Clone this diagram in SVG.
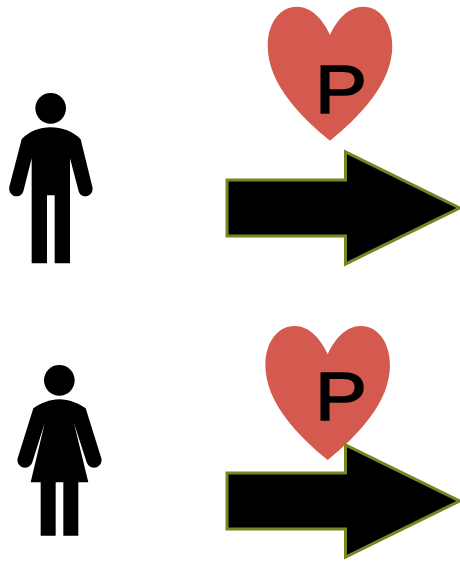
<svg xmlns="http://www.w3.org/2000/svg" width="460" height="561" viewBox="0 0 460 561">
<style>
.fig{fill:#000}
.heart{fill:#d4594e}
.arrow{fill:#000;stroke:#7a8420;stroke-width:3;stroke-linejoin:miter}
.p{font-family:"Liberation Sans",Arial,sans-serif;font-size:69px;fill:#000;stroke:#000;stroke-width:1.6px}
</style>
<defs>
<path id="heartShape" d="M330 35C323 19 311 6.700 297 6.700C279 6.700 267.700 24 267.700 46C267.700 84 302 118 330 140.700C358 118 392.300 84 392.300 46C392.300 24 381 6.700 363 6.700C349 6.700 337 19 330 35Z"/>
</defs>
<rect width="460" height="561" fill="#fff"/>
<g id="man" transform="translate(0 80) scale(.33333)">
<circle class="fig" cx="152" cy="85" r="46"/>
<path class="fig" d="M152 142C120 142 85 155 65 178L28 320C25 338 38 349 50 349C62 349 69 340 71 330L95 235V550H141V346H164V550H210V235L235 330C237 340 244 349 256 349C268 349 281 338 277 320L242 178C222 155 184 142 152 142Z"/>
</g>
<g id="woman" transform="translate(0 355) scale(.33333)">
<circle class="fig" cx="178" cy="76" r="46"/>
<path class="fig" d="M178 133C150 133 120 145 100 160L53 310C49 325 62 338 75 338C86 338 94 331 97 322L134 205L92 382H122V542H167V382H190V542H235V382H265L222 205L260 322C263 331 271 338 282 338C295 338 308 325 304 310L257 160C237 145 206 133 178 133Z"/>
</g>
<g id="heart-1">
<use href="#heartShape" class="heart"/>
<text class="p" transform="translate(315 112.500) scale(1.13 1)">P</text>
</g>
<g id="heart-2">
<use href="#heartShape" class="heart" transform="translate(-2.300 319.300)"/>
<text class="p" transform="translate(315 419.900) scale(1.13 1)">P</text>
</g>
<g id="connectors">
<path id="arrow-1" class="arrow" d="M227 180H345.500V152L459.500 208L345.500 264V236H227Z"/>
<path id="arrow-2" class="arrow" d="M227 473H345.500V445L459.500 501L345.500 557V529H227Z"/>
</g>
</svg>
